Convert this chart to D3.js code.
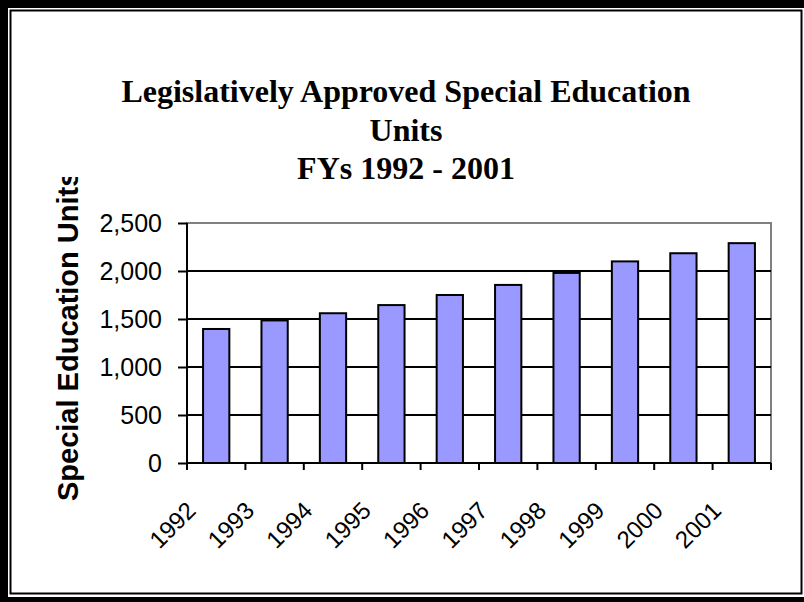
<!DOCTYPE html>
<meta http-equiv="Content-Type" content="text/html; charset=utf-8">
<style>
body { margin: 0; background: #fff; }
</style>
<body>
<script src="https://d3js.org/d3.v7.min.js" charset="utf-8"></script>
<script>
var years = ["1992","1993","1994","1995","1996","1997","1998","1999","2000","2001"];
var units = [1396, 1485, 1560, 1645, 1750, 1855, 1980, 2100, 2185, 2290];
var yTicks = [0, 500, 1000, 1500, 2000, 2500];
var titleLines = ["Legislatively Approved Special Education", "Units", "FYs 1992 - 2001"];
var yTitle = "Special Education Units";

var W = 804, H = 602;
var svg = d3.select("body").append("svg").attr("width", W).attr("height", H);

// frame: thick outer border, white gap, thin inner line
svg.append("rect").attr("width", W).attr("height", H).attr("fill", "#000");
svg.append("rect").attr("x", 8).attr("y", 8).attr("width", W - 8).attr("height", 589).attr("fill", "#fff");
svg.append("rect").attr("x", 10.5).attr("y", 10.5).attr("width", 791).attr("height", 583)
	.attr("fill", "none").attr("stroke", "#000").attr("stroke-width", 2);

var pLeft = 187, pRight = 771, pTop = 223, pBottom = 463;

var x = d3.scaleBand().domain(years).range([pLeft, pRight]).padding(0);
var y = d3.scaleLinear().domain([0, 2500]).range([pBottom, pTop]);
var bw = x.bandwidth();

// title
var title = svg.append("text")
	.attr("x", 406).attr("y", 102)
	.attr("text-anchor", "middle")
	.style("font-family", "'Liberation Serif', 'Times New Roman', serif")
	.style("font-weight", "bold").style("font-size", "32px");
title.selectAll("tspan").data(titleLines).enter().append("tspan")
	.attr("x", 406).attr("dy", function(d, i){ return i == 0 ? 0 : 38.5; })
	.text(function(d){ return d; });

// plot area border (gray top/right)
svg.append("rect").attr("x", pLeft).attr("y", pTop).attr("width", pRight - pLeft).attr("height", pBottom - pTop)
	.attr("fill", "none").attr("stroke", "#808080").attr("stroke-width", 2);

// gridlines
svg.append("g").selectAll("line").data(yTicks.filter(function(d){ return d > 0 && d < 2500; }))
	.enter().append("line")
	.attr("x1", pLeft).attr("x2", pRight)
	.attr("y1", function(d){ return y(d); }).attr("y2", function(d){ return y(d); })
	.attr("stroke", "#000").attr("stroke-width", 2);

// bars
svg.append("g").selectAll("rect").data(units).enter().append("rect")
	.attr("x", function(d, i){ return x(years[i]) + bw * 0.275; })
	.attr("width", bw * 0.45)
	.attr("y", function(d){ return y(d); })
	.attr("height", function(d){ return pBottom - y(d); })
	.attr("fill", "#9999ff").attr("stroke", "#000").attr("stroke-width", 2);

// y axis
var yAxis = svg.append("g").attr("transform", "translate(" + pLeft + ",0)")
	.call(d3.axisLeft(y).tickValues(yTicks).tickSize(9).tickPadding(16)
		.tickFormat(d3.format(",")));
yAxis.select(".domain").attr("stroke-width", 2).attr("d", "M0," + pTop + "V" + pBottom);
yAxis.selectAll(".tick line").attr("stroke-width", 2);
yAxis.selectAll("text")
	.style("font-family", "'Liberation Sans', Arial, sans-serif")
	.style("font-size", "25px").attr("fill", "#000");

// x axis: ticks at category boundaries
var xAxis = svg.append("g").attr("transform", "translate(0," + pBottom + ")");
xAxis.append("line").attr("x1", pLeft).attr("x2", pRight).attr("stroke", "#000").attr("stroke-width", 2);
var bounds = years.map(function(d){ return x(d); }).concat([pRight]);
xAxis.selectAll("line.tk").data(bounds).enter().append("line").attr("class", "tk")
	.attr("x1", function(d){ return d; }).attr("x2", function(d){ return d; })
	.attr("y1", 0).attr("y2", 7).attr("stroke", "#000").attr("stroke-width", 2);
xAxis.selectAll("text").data(years).enter().append("text")
	.attr("transform", function(d){ return "translate(" + (x(d) + bw / 2 - 19) + ",49) rotate(-45)"; })
	.attr("text-anchor", "end")
	.style("font-family", "'Liberation Sans', Arial, sans-serif")
	.style("font-size", "24px")
	.text(function(d){ return d; });

// y axis title (top slightly clipped as in the original)
svg.append("clipPath").attr("id", "ytclip").append("rect")
	.attr("x", 0).attr("y", 177).attr("width", 120).attr("height", 400);
svg.append("g").attr("clip-path", "url(#ytclip)")
	.append("text")
	.attr("transform", "translate(78,501) rotate(-90)")
	.attr("text-anchor", "start")
	.style("font-family", "'Liberation Sans', Arial, sans-serif")
	.style("font-weight", "bold").style("font-size", "29px")
	.text(yTitle);
</script>
</body>
